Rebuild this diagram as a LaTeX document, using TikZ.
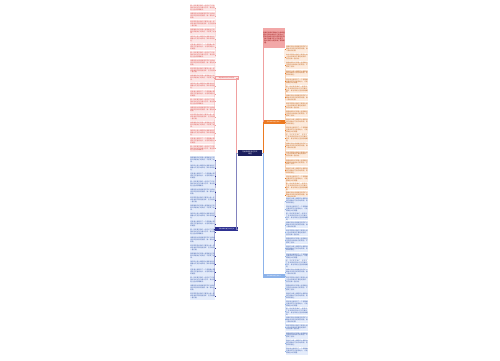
\documentclass[tikz,border=0pt]{standalone}
\usepackage{fontspec}
\setmainfont{Noto Sans CJK SC}
\XeTeXlinebreaklocale "zh"
\XeTeXlinebreakskip = 0pt plus 1pt
\usetikzlibrary{positioning}
\definecolor{navy}{HTML}{1C1F5E}
\definecolor{navyb}{HTML}{2E3192}
\definecolor{pinkline}{HTML}{F0A0A0}
\definecolor{pinkfill}{HTML}{FCE6E6}
\definecolor{pinkdark}{HTML}{F2A7A7}
\definecolor{redtxt}{HTML}{D9534F}
\definecolor{orangeb}{HTML}{EC7A22}
\definecolor{orangefill}{HTML}{FDEBDD}
\definecolor{blueline}{HTML}{8DB3EA}
\definecolor{bluefill}{HTML}{E4ECFB}
\definecolor{bluetxt}{HTML}{3A5BA8}
\tikzset{
  box/.style={inner sep=0pt, outer sep=0pt, align=left, font=\fontsize{2.3}{2.7}\selectfont},
  leafpink/.style={box, fill=pinkfill, text=redtxt, text width=24.5*0.5mm, minimum height=6.8*0.5mm},
  leafblue/.style={box, fill=bluefill, text=bluetxt, text width=24.5*0.5mm, minimum height=7.2*0.5mm},
  leafblueR/.style={box, fill=bluefill, text=bluetxt, text width=22*0.5mm, minimum height=7.2*0.5mm},
  leaforange/.style={box, fill=orangefill, text=orangeb!80!black, text width=22*0.5mm, minimum height=7.2*0.5mm},
  branch/.style={box, minimum width=23*0.5mm, minimum height=3.2*0.5mm, align=center, font=\fontsize{2}{2.4}\selectfont},
  link/.style={line width=0.3pt},
}
\newcommand{\leaftext}[1]{%
  \ifcase#1 那一年的夏天我们一起走过了许多美好的时光至今难以忘怀，每当想起心里总是暖暖的。\or
  清晨的阳光洒进教室同学们认真地读书声音响亮而清脆，像一首动听的歌。\or
  老师常常告诉我们只要努力就一定会有收获不要轻易放弃，这句话我一直记着。\or
  我望着窗外的风景心里想着远方的家人和朋友们的笑脸，不禁笑了起来。\or
  雨后的小路上满是积水我和伙伴们踩着水花快乐地奔跑，笑声传得很远。\or
  这件事让我明白了一个道理做人要诚实守信善待他人，才能得到别人的尊重。\fi}
\begin{document}
\begin{tikzpicture}[x=0.5mm, y=-0.5mm]
\useasboundingbox (0,0) rectangle (500,360);
% center
\node[box, fill=navy, text=white, minimum width=24*0.5mm, minimum height=6*0.5mm, align=center,
  font=\fontsize{2.4}{3}\selectfont] (root) at (250,153) {写给未来的自己作文\\精选};
% branches
\node[branch, fill=pinkfill, draw=pinkline, line width=0.3pt, text=redtxt] (lpink) at (226.5,78) {那些难忘的时光作文精选};
\node[branch, fill=navyb, text=white] (lblue) at (226.5,229) {写给未来的自己作文范文};
\node[box, fill=pinkdark, text=red!55!black, text width=22*0.5mm, minimum height=20*0.5mm] (rtop) at (274,38)
  {亲爱的未来的我你好当你读到这封信的时候也许已经长大了不知道你是否还记得现在的自己每天背着书包上学的样子，那时的我们总是充满了梦想和希望。};
\node[branch, fill=orangeb, text=white, minimum width=22*0.5mm] (rorange) at (274,122) {写给未来的自己作文一};
\node[branch, fill=blueline, text=white, minimum width=22*0.5mm] (rblue) at (274,276) {写给未来的自己作文二};
% left leaves
\foreach \i in {0,...,18} {
  \pgfmathtruncatemacro{\k}{mod(\i,6)}
  \node[leafpink] (lp\i) at (202.5,{8+7.8*\i}) {\leaftext{\k}};
  \draw[pinkline, link] (lp\i.east) -- ++(1,0);
}
\foreach \i in {0,...,17} {
  \pgfmathtruncatemacro{\k}{mod(\i+3,6)}
  \node[leafblue] (lb\i) at (202.5,{160+8*\i}) {\leaftext{\k}};
  \draw[navyb, link] (lb\i.east) -- ++(1,0);
}
% right leaves
\foreach \i in {0,...,18} {
  \pgfmathtruncatemacro{\k}{mod(\i+1,6)}
  \node[leaforange] (ro\i) at (297,{49+8.1*\i}) {\leaftext{\k}};
  \draw[orangeb, link] (ro\i.west) -- ++(-1,0);
}
\foreach \i in {0,...,19} {
  \pgfmathtruncatemacro{\k}{mod(\i+4,6)}
  \node[leafblueR] (rb\i) at (297,{201+7.9*\i}) {\leaftext{\k}};
  \draw[blueline, link] (rb\i.west) -- ++(-1,0);
}
% connectors
\draw[pinkline, link] (lpink.west) -- ++(-1,0) coordinate (lpj);
\draw[pinkline, link] (lp0.east) ++(1,0) -- (lp18.east -| lpj);
\draw[navyb, link] (lblue.west) -- ++(-1,0) coordinate (lbj);
\draw[navyb, link] (lb0.east) ++(1,0) -- (lb17.east -| lbj);
\draw[orangeb, link] (rorange.east) -- ++(1,0) coordinate (roj);
\draw[orangeb, link] (ro0.west) ++(-1,0) -- (ro18.west -| roj);
\draw[blueline, link] (rblue.east) -- ++(1,0) coordinate (rbj);
\draw[blueline, link] (rb0.west) ++(-1,0) -- (rb19.west -| rbj);
\draw[navy!40, link] (root.west) -- ++(-1.5,0) coordinate (cl);
\draw[pinkline, link] (cl) |- (lpink.east);
\draw[navyb!60, link] (cl) |- (lblue.east);
\draw[navy!40, link] (root.east) -- ++(1,0) coordinate (cr);
\draw[pinkline, link] (cr) |- (rtop.west);
\draw[orangeb, link] (cr) |- (rorange.west);
\draw[blueline, link] (cr) |- (rblue.west);
\end{tikzpicture}
\end{document}
